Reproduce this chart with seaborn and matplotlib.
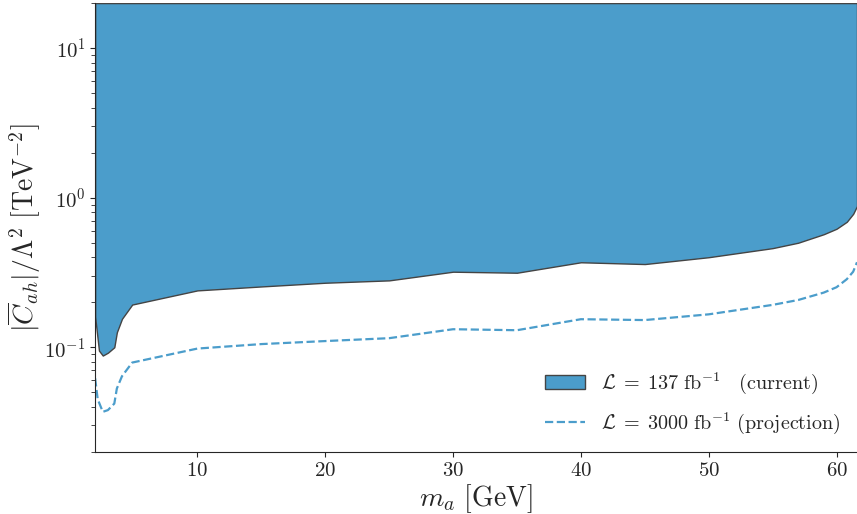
import numpy as np
import pandas as pd
import matplotlib
matplotlib.use("Agg")
import matplotlib.pyplot as plt
import seaborn as sns
from matplotlib.patches import Patch
from matplotlib.lines import Line2D

# Current limit (137 fb^-1) lower boundary of excluded region
mass_current = [2.0, 2.3, 2.6, 3.0, 3.5, 3.7, 4.1, 4.9, 10, 15, 20, 25, 30, 35, 40, 45, 50, 55, 57, 59, 60, 60.8, 61.3, 61.6]
coef_current = [0.16, 0.095, 0.088, 0.092, 0.100, 0.126, 0.155, 0.193, 0.24, 0.255, 0.27, 0.28, 0.32, 0.315, 0.37, 0.36, 0.40, 0.46, 0.50, 0.57, 0.62, 0.69, 0.78, 0.88]

# Projection (3000 fb^-1)
mass_proj = [2.0, 2.2, 2.6, 3.0, 3.5, 3.7, 4.1, 4.9, 10, 15, 20, 25, 30, 35, 40, 45, 50, 55, 57, 59, 60, 60.8, 61.3, 61.6]
coef_proj = [0.062, 0.045, 0.037, 0.038, 0.042, 0.053, 0.064, 0.079, 0.098, 0.105, 0.11, 0.115, 0.132, 0.13, 0.154, 0.152, 0.166, 0.192, 0.207, 0.232, 0.252, 0.285, 0.32, 0.37]

label_current = r"$\mathcal{L}\;=\;137\ \mathrm{fb}^{-1}\ \ \ \mathrm{(current)}$"
label_proj = r"$\mathcal{L}\;=\;3000\ \mathrm{fb}^{-1}\ \mathrm{(projection)}$"

sns.set_style("ticks")
plt.rcParams["mathtext.fontset"] = "cm"
plt.rcParams["font.family"] = ["cmr10", "DejaVu Serif"]
plt.rcParams["axes.formatter.use_mathtext"] = True

blue = "#4b9dcb"

fig = plt.figure(figsize=(8.57, 5.14), dpi=100)
ax = fig.add_axes([0.111, 0.121, 0.889, 0.873])

ymax = 20
ax.fill_between(mass_current, coef_current, ymax, facecolor=blue, edgecolor="#444444", linewidth=1.0)

df_proj = pd.DataFrame({"m": mass_proj, "c": coef_proj})
sns.lineplot(data=df_proj, x="m", y="c", ax=ax, color=blue, linestyle="--", linewidth=1.6, sort=False)

ax.set_yscale("log")
ax.set_xlim(2, 61.6)
ax.set_ylim(0.02, ymax)
ax.set_xticks([10, 20, 30, 40, 50, 60])
ax.tick_params(axis="both", labelsize=15, direction="out")
ax.tick_params(axis="y", which="minor", length=3)

ax.set_xlabel(r"$m_a\ [\mathrm{GeV}]$", fontsize=20)
ax.xaxis.set_label_coords(0.5, -0.068)
ax.set_ylabel(r"$|\overline{C}_{ah}|/\Lambda^2\ [\mathrm{TeV}^{-2}]$", fontsize=20)
ax.yaxis.set_label_coords(-0.068, 0.5)

sns.despine(ax=ax, top=True, right=True)

handles = [
    Patch(facecolor=blue, edgecolor="#444444", linewidth=1.0),
    Line2D([0], [0], color=blue, linestyle="--", linewidth=1.6),
]
ax.legend(handles, [label_current, label_proj], loc="lower right", frameon=False, fontsize=14.5,
          handlelength=2.0, borderaxespad=0.4, labelspacing=0.7)

fig.savefig("out.png", dpi=100)
